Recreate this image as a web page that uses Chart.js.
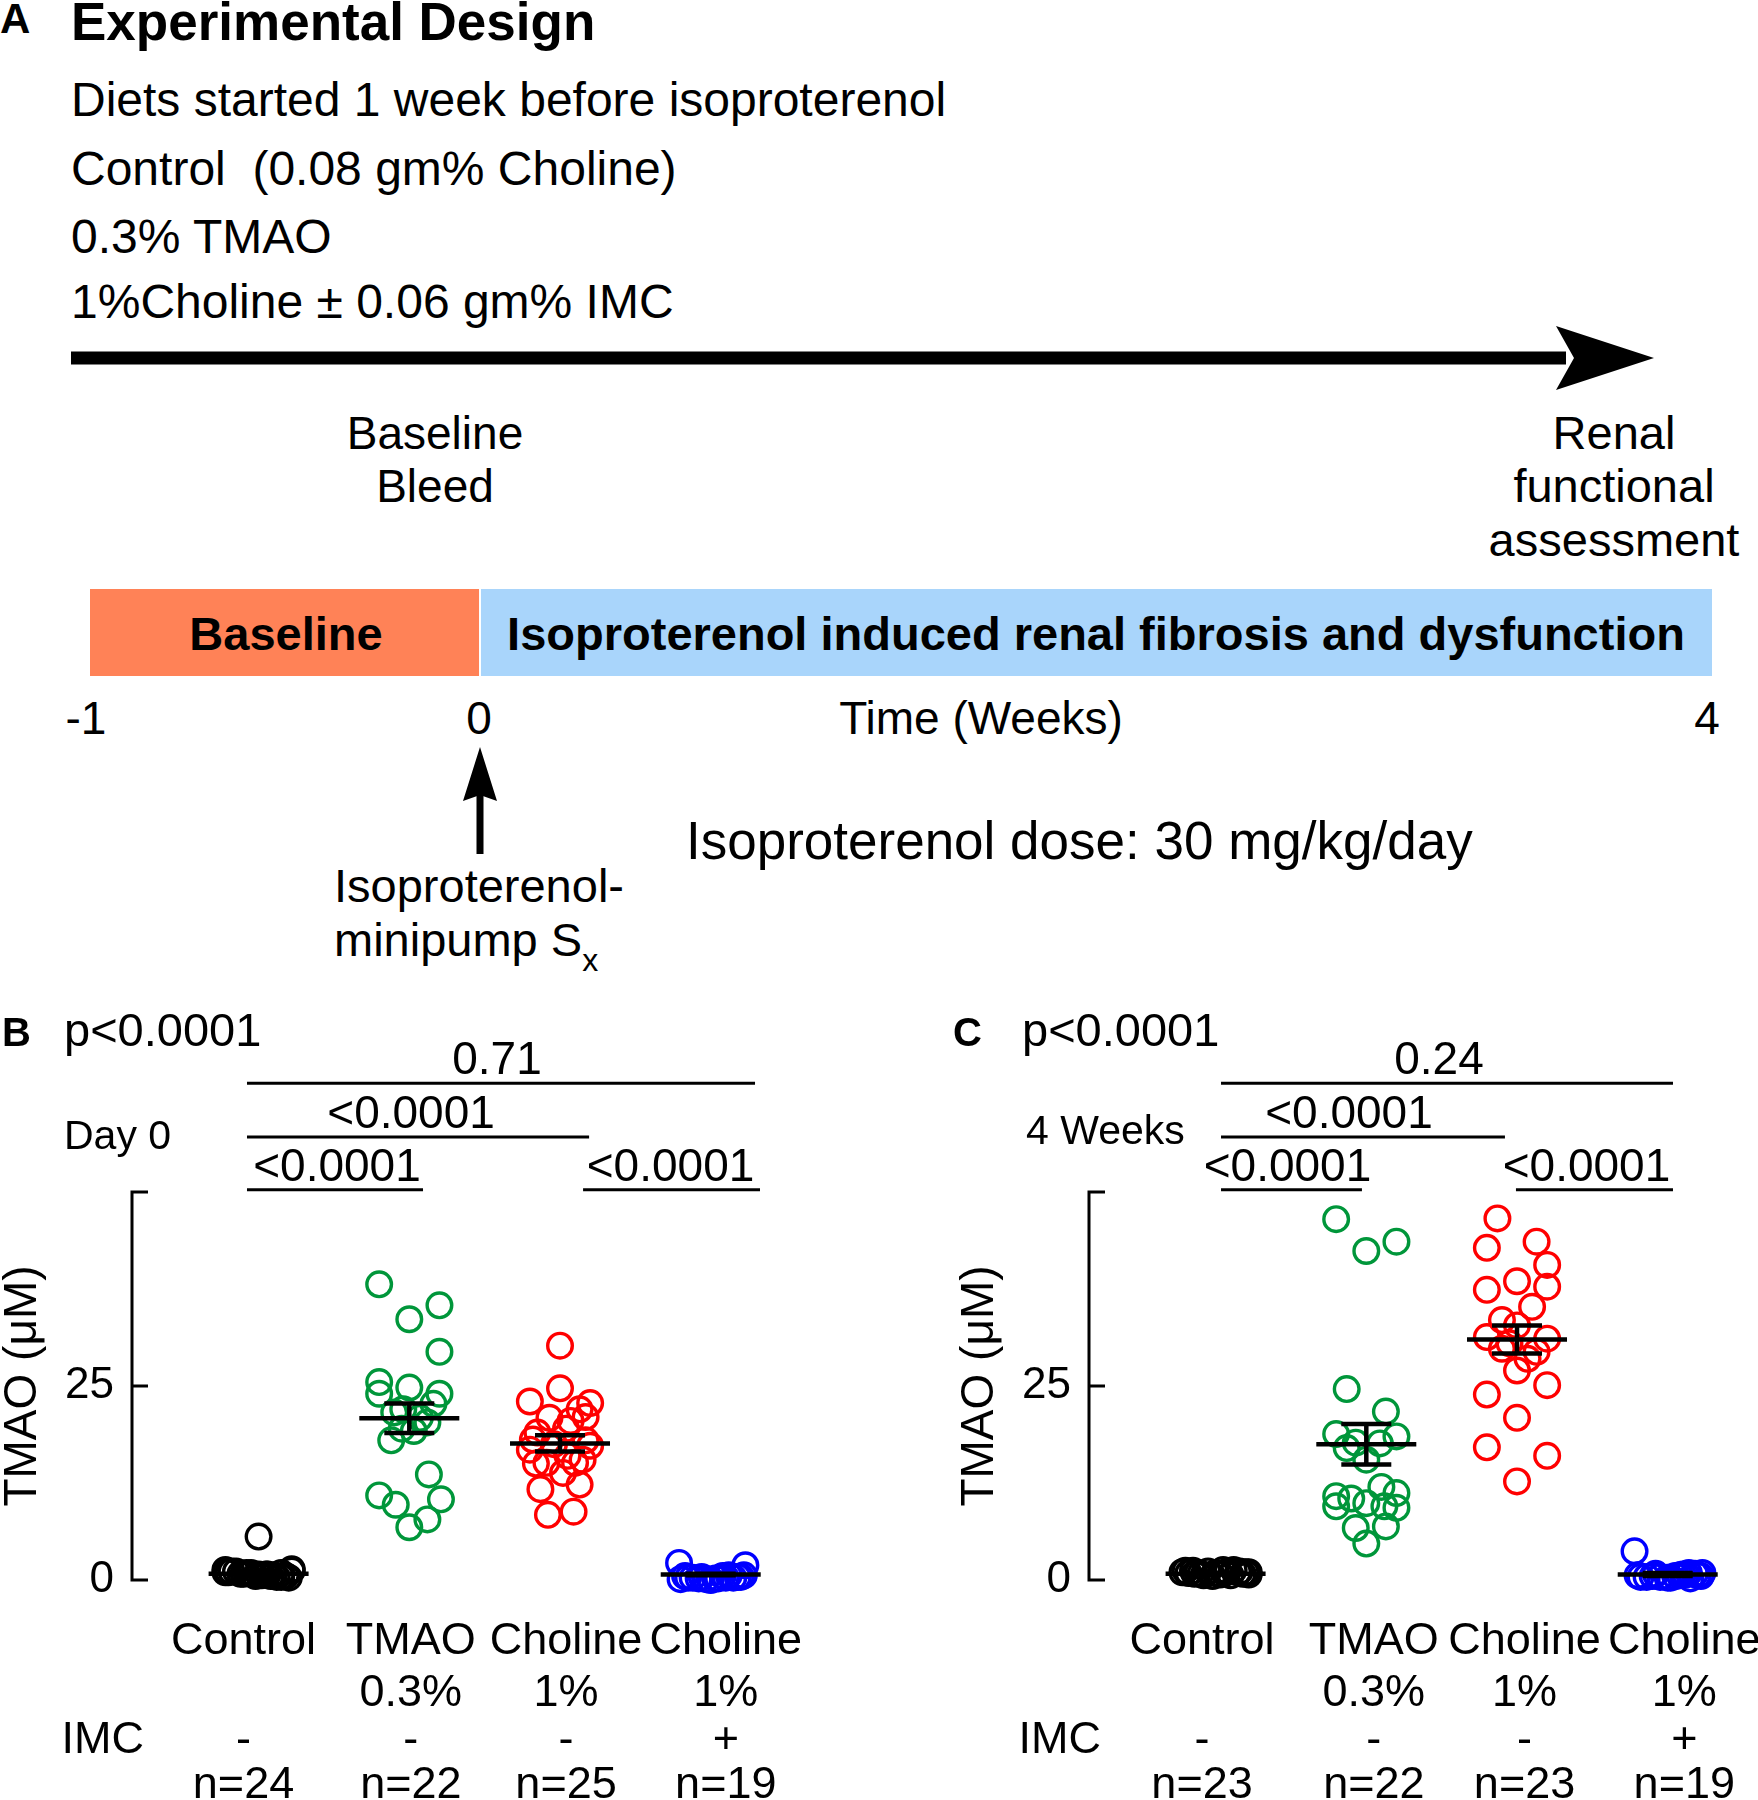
<!DOCTYPE html>
<html>
<head>
<meta charset="utf-8">
<title>TMAO experimental design and plasma levels</title>
<script src="https://cdn.jsdelivr.net/npm/chart.js"></script>
<style>
  html, body { margin: 0; padding: 0; background: #fff; }
  body { width: 1758px; height: 1800px; position: relative; overflow: hidden; }
  #design { position: absolute; left: 0; top: 0; }
  #chartB { position: absolute; left: 0; top: 1000px; }
  #chartC { position: absolute; left: 880px; top: 1000px; }
  svg text { fill: #000; white-space: pre; }
</style>
</head>
<body>

<!-- Panel A: study design -->
<svg id="design" width="1758" height="1000" viewBox="0 0 1758 1000" font-family="Liberation Sans, Arial, Helvetica, sans-serif">
  <text x="0" y="33" font-size="42" font-weight="bold">A</text>
  <text x="71" y="40" font-size="53" font-weight="bold">Experimental Design</text>
  <g font-size="48">
    <text x="71" y="116">Diets started 1 week before isoproterenol</text>
    <text x="71" y="185">Control  (0.08 gm% Choline)</text>
    <text x="71" y="253">0.3% TMAO</text>
    <text x="71" y="318">1%Choline ± 0.06 gm% IMC</text>
  </g>
  <!-- time arrow -->
  <rect x="71" y="351.5" width="1495" height="13" fill="#000"/>
  <path d="M1654 358 L1556 326 L1574 358 L1556 390 Z" fill="#000"/>

  <g font-size="46" text-anchor="middle">
    <text x="435" y="449">Baseline</text>
    <text x="435" y="502">Bleed</text>
  </g>
  <g font-size="47" text-anchor="middle">
    <text x="1614" y="449">Renal</text>
    <text x="1614" y="502">functional</text>
    <text x="1614" y="556">assessment</text>
  </g>

  <!-- timeline bar -->
  <rect x="90" y="589" width="389" height="87" fill="#FF8257"/>
  <rect x="481" y="589" width="1231" height="87" fill="#A9D5FB"/>
  <g font-size="47" font-weight="bold" text-anchor="middle">
    <text x="286" y="650">Baseline</text>
    <text x="1096" y="650">Isoproterenol induced renal fibrosis and dysfunction</text>
  </g>
  <g font-size="46" text-anchor="middle">
    <text x="86" y="734">-1</text>
    <text x="479" y="734">0</text>
    <text x="981" y="734">Time (Weeks)</text>
    <text x="1707" y="734">4</text>
  </g>

  <!-- minipump arrow -->
  <rect x="476.5" y="790" width="7" height="64" fill="#000"/>
  <path d="M480 747 L497 801 L480 795 L463 801 Z" fill="#000"/>
  <g font-size="47">
    <text x="334" y="902">Isoproterenol-</text>
    <text x="334" y="956">minipump S<tspan font-size="32" dy="15">x</tspan></text>
  </g>
  <text x="686" y="859" font-size="53">Isoproterenol dose: 30 mg/kg/day</text>
</svg>

<canvas id="chartB" width="880" height="800"></canvas>
<canvas id="chartC" width="878" height="800"></canvas>

<script>
// Groups (shared by both panels)
const groups = ['Control', 'TMAO', 'Choline', 'Choline'];
const doses = ['', '0.3%', '1%', '1%'];
const imc = ['-', '-', '-', '+'];

// Panel B - Day 0, TMAO (uM), with horizontal jitter of each dot
const day0Control = [5.6, 1.3, 1.1, 0.9, 0.7, 0.5, 0.4, 1.2, 1.0, 0.8, 0.6, 0.4, 0.3, 1.1, 0.9, 0.7, 0.5, 1.4, 1.0, 0.8, 0.6, 0.5, 0.9, 0.7];
const day0ControlJit = [0, -0.22, -0.15, -0.08, 0, 0.08, 0.15, 0.22, -0.2, -0.1, 0.02, 0.12, 0.2, -0.18, -0.05, 0.06, 0.18, 0.22, -0.22, -0.12, 0.1, -0.02, 0.15, 0.05];
const day0Tmao = [38.1, 35.4, 33.6, 29.4, 25.5, 24.0, 24.8, 24.0, 22.7, 21.6, 20.3, 19.2, 18.0, 13.6, 10.9, 9.7, 10.4, 7.8, 6.8, 20.9, 22.0, 19.5];
const day0TmaoJit = [-0.2, 0.2, 0, 0.2, -0.2, -0.2, 0, 0.2, 0.16, -0.1, 0.12, 0.03, -0.12, 0.13, -0.2, -0.09, 0.21, 0.12, 0, 0.07, -0.04, -0.05];
const day0Choline = [30.2, 24.7, 23.0, 22.8, 22.0, 20.9, 20.5, 18.1, 17.3, 16.8, 15.1, 15.1, 15.5, 13.8, 11.7, 12.3, 8.4, 8.8, 19.0, 18.0, 21.0, 17.5, 16.0, 19.5, 15.0];
const day0CholineJit = [0, 0, -0.2, 0.2, 0.13, -0.07, 0.07, -0.18, 0.2, -0.2, -0.09, 0.1, 0.15, 0.02, -0.13, 0.13, -0.08, 0.09, -0.15, 0.17, 0.17, -0.04, 0.05, 0.04, -0.16];
const day0CholineImc = [2.2, 1.9, 0.0, 0.3, 0.2, 0.5, 0.3, 0.1, 0.4, 0.2, 0.3, 0.6, 0.1, 0.4, 0.2, 0.5, 0.3, 0.4, 0.6];
const day0CholineImcJit = [-0.21, 0.23, 0, -0.15, -0.08, 0.08, 0.15, -0.2, 0.2, 0.03, -0.12, 0.12, -0.03, 0.18, 0.05, -0.17, 0.1, -0.06, 0.22];
const day0Mean = [0.8, 20.85, 17.6, 0.7];
const day0Sem = [0.2, 1.9, 1.05, 0.1];
const day0N = ['n=24', 'n=22', 'n=25', 'n=19'];
const day0P = ['p<0.0001', '0.71', '<0.0001', '<0.0001', '<0.0001'];

// Panel C - 4 weeks
const week4Control = [1.0, 1.2, 0.8, 1.1, 0.9, 1.3, 0.6, 1.0, 0.7, 1.2, 0.9, 0.5, 1.1, 0.8, 1.0, 0.6, 1.3, 0.9, 0.7, 1.1, 0.8, 1.0, 0.9];
const week4ControlJit = [-0.22, -0.15, -0.1, -0.05, 0, 0.05, 0.1, 0.15, 0.22, -0.2, -0.12, -0.02, 0.08, 0.18, 0.2, -0.08, 0.12, -0.18, 0.03, 0.16, -0.14, 0.22, 0.06];
const week4Tmao = [46.5, 42.4, 43.6, 24.6, 21.7, 18.8, 18.5, 17.7, 17.6, 15.5, 17.0, 10.8, 11.2, 9.5, 9.9, 9.3, 6.7, 6.9, 4.7, 12.0, 10.5, 9.5];
const week4TmaoJit = [-0.2, 0, 0.2, -0.13, 0.13, -0.2, 0.2, -0.07, 0.09, 0, -0.13, -0.2, 0.2, -0.2, 0, 0.2, -0.07, 0.13, 0, 0.1, -0.1, 0.12];
const week4Choline = [46.6, 42.8, 43.6, 40.6, 38.5, 37.4, 37.8, 35.2, 33.5, 32.8, 31.3, 31.1, 29.8, 29.4, 27.0, 25.1, 23.9, 20.9, 17.1, 16.0, 12.7, 30.5, 28.5];
const week4CholineJit = [-0.13, -0.2, 0.13, 0.2, 0, -0.2, 0.2, 0.1, -0.1, 0, -0.2, 0.2, -0.1, 0.13, 0, 0.2, -0.2, 0, -0.2, 0.2, 0, -0.05, 0.07];
const week4CholineImc = [3.7, 0.6, 0.4, 0.8, 0.3, 0.5, 0.7, 0.2, 0.6, 0.9, 0.4, 0.5, 0.3, 0.7, 0.8, 0.4, 0.6, 0.5, 0.9];
const week4CholineImcJit = [-0.22, -0.2, -0.14, -0.08, 0, 0.05, 0.1, 0.15, 0.2, 0.23, -0.18, -0.1, 0.02, 0.12, 0.18, -0.05, 0.08, 0.22, 0.14];
const week4Mean = [0.8, 17.5, 31.0, 0.7];
const week4Sem = [0.1, 2.6, 1.8, 0.2];
const week4N = ['n=23', 'n=22', 'n=23', 'n=19'];
const week4P = ['p<0.0001', '0.24', '<0.0001', '<0.0001', '<0.0001'];

const groupColors = ['#000000', '#00963A', '#FF0000', '#0000FF'];
const FONT = "'Liberation Sans', Arial, Helvetica, sans-serif";
Chart.defaults.font.family = FONT;
Chart.defaults.color = '#000';

// mean line + SEM whiskers over each group
function meanSemPlugin(means, sems) {
  return {
    id: 'meanSem',
    afterDatasetsDraw(chart) {
      const { ctx, scales: { x, y } } = chart;
      ctx.save();
      ctx.strokeStyle = '#000';
      ctx.lineWidth = 4.5;
      means.forEach((m, i) => {
        const cx = x.getPixelForValue(i + 1);
        const my = y.getPixelForValue(m);
        const hi = y.getPixelForValue(m + sems[i]);
        const lo = y.getPixelForValue(m - sems[i]);
        ctx.beginPath();
        ctx.moveTo(cx - 50, my); ctx.lineTo(cx + 50, my);
        ctx.moveTo(cx, hi); ctx.lineTo(cx, lo);
        ctx.moveTo(cx - 25, hi); ctx.lineTo(cx + 25, hi);
        ctx.moveTo(cx - 25, lo); ctx.lineTo(cx + 25, lo);
        ctx.stroke();
      });
      ctx.restore();
    }
  };
}

// axis, titles, comparison brackets and the group table under the plot
function annotatePlugin(nLabels, pvals, lay) {
  return {
    id: 'annotate',
    afterDraw(chart) {
      const { ctx, chartArea: a, scales: { x, y } } = chart;
      ctx.save();
      ctx.fillStyle = '#000';
      ctx.strokeStyle = '#000';

      // y axis with inward ticks
      ctx.lineWidth = 3;
      ctx.beginPath();
      ctx.moveTo(a.left, y.getPixelForValue(50) - 1.5);
      ctx.lineTo(a.left, y.getPixelForValue(0) + 1.5);
      [0, 25, 50].forEach(v => {
        const py = y.getPixelForValue(v);
        ctx.moveTo(a.left, py);
        ctx.lineTo(a.left + 16, py);
      });
      ctx.stroke();

      ctx.save();
      ctx.translate(a.left - 109, (a.top + a.bottom) / 2);
      ctx.rotate(-Math.PI / 2);
      ctx.font = '46px ' + FONT;
      ctx.textAlign = 'center';
      ctx.textBaseline = 'middle';
      ctx.fillText('TMAO (\u03bcM)', 0, 0);
      ctx.restore();

      // header
      ctx.textBaseline = 'alphabetic';
      ctx.textAlign = 'left';
      ctx.font = 'bold 40px ' + FONT;
      ctx.fillText(lay.letter, lay.letterX, 46);
      ctx.font = '47px ' + FONT;
      ctx.fillText(pvals[0], lay.pX, 46);
      ctx.font = '41px ' + FONT;
      ctx.fillText(lay.tag, lay.tagX, lay.tagY);

      // brackets
      ctx.font = '46px ' + FONT;
      ctx.textAlign = 'center';
      ctx.lineWidth = 3;
      lay.brackets.forEach((b, i) => {
        const x1 = x.getPixelForValue(b[0]);
        const x2 = x.getPixelForValue(b[1]);
        const py = y.getPixelForValue(b[2]);
        ctx.beginPath();
        ctx.moveTo(x1, py); ctx.lineTo(x2, py);
        ctx.stroke();
        ctx.fillText(pvals[i + 1], (x1 + x2) / 2 + b[3], py - 9);
      });

      // group table
      ctx.font = '45px ' + FONT;
      groups.forEach((g, i) => {
        const px = x.getPixelForValue(i + 1 + lay.labelShift[i]);
        ctx.fillText(g, px, 654);
        ctx.fillText(doses[i], px, 706);
        ctx.fillText(imc[i], px, 753);
        ctx.fillText(nLabels[i], px, 798);
      });
      ctx.textAlign = 'right';
      ctx.fillText('IMC', a.left + 12, 753);
      ctx.restore();
    }
  };
}

function buildPanel(id, series, jitters, means, sems, nLabels, pvals, lay) {
  const datasets = series.map((vals, g) => ({
    data: vals.map((v, k) => ({ x: g + 1 + jitters[g][k], y: v })),
    borderColor: groupColors[g],
    backgroundColor: 'rgba(0,0,0,0)',
    pointRadius: 12.3,
    pointHoverRadius: 12.3,
    pointBorderWidth: 3.4,
    showLine: false,
    clip: false
  }));

  return new Chart(document.getElementById(id), {
    type: 'scatter',
    data: { datasets },
    options: {
      responsive: false,
      animation: false,
      events: [],
      layout: { padding: { top: 192, bottom: 220, left: 0, right: lay.padRight } },
      plugins: { legend: { display: false }, tooltip: { enabled: false } },
      scales: {
        x: { type: 'linear', min: 0.16, max: 4.4, display: false },
        y: {
          min: 0, max: 50,
          grid: { display: false, drawTicks: false },
          border: { display: false },
          ticks: {
            stepSize: 25, padding: 18, color: '#000',
            font: { size: 44 },
            callback: v => (v === 50 ? '' : v)
          },
          afterFit: s => { s.width = lay.axisLeft; }
        }
      }
    },
    plugins: [meanSemPlugin(means, sems), annotatePlugin(nLabels, pvals, lay)]
  });
}

buildPanel('chartB',
  [day0Control, day0Tmao, day0Choline, day0CholineImc],
  [day0ControlJit, day0TmaoJit, day0CholineJit, day0CholineImcJit],
  day0Mean, day0Sem, day0N, day0P,
  {
    axisLeft: 132, padRight: 109,
    letter: 'B', letterX: 2, pX: 64,
    tag: 'Day 0', tagX: 64, tagY: 149,
    // [x from, x to, y level, label dx]
    brackets: [[0.923, 4.294, 64, -4], [0.923, 3.193, 57.1, -7], [0.923, 2.091, 50.3, 2], [3.153, 4.327, 50.3, -1]],
    labelShift: [-0.1, 0.01, 0.04, 0.1]
  });

buildPanel('chartC',
  [week4Control, week4Tmao, week4Choline, week4CholineImc],
  [week4ControlJit, week4TmaoJit, week4CholineJit, week4CholineImcJit],
  week4Mean, week4Sem, week4N, week4P,
  {
    axisLeft: 209, padRight: 30,
    letter: 'C', letterX: 73, pX: 142,
    tag: '4 Weeks', tagX: 146, tagY: 144,
    brackets: [[1.036, 4.035, 64, -8], [1.036, 2.92, 57.1, -14], [1.036, 1.971, 50.3, -4], [2.993, 4.035, 50.3, -8]],
    labelShift: [-0.09, 0.05, 0.05, 0.11]
  });
</script>
</body>
</html>
